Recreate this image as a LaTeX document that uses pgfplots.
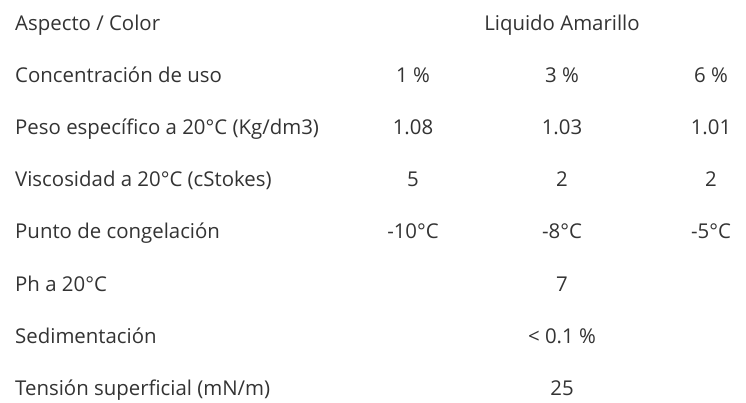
\documentclass[border=0pt]{standalone}
\usepackage{fontspec}
\setmainfont{Open Sans}
\usepackage{pgfplots}
\usepackage{pgfplotstable}
\pgfplotsset{compat=1.18}
\definecolor{txt}{HTML}{333333}

% left column: row labels (x = left edge, y = baseline in px from top)
\pgfplotstableread[col sep=comma]{
x,y,label
15,30.3,Aspecto / Color
15,82.4,Concentración de uso
15,134.6,Peso específico a 20°C (Kg/dm3)
15,186.7,Viscosidad a 20°C (cStokes)
15,238.9,Punto de congelación
15,291.0,Ph a 20°C
15,343.2,Sedimentación
15,395.3,Tensión superficial (mN/m)
}\rowlabels

% value cells (x = centre, y = baseline)
\pgfplotstableread[col sep=comma]{
x,y,label
562,30.3,Liquido Amarillo
413,82.4,1 \%
562,82.4,3 \%
711,82.4,6 \%
413,134.6,1.08
562,134.6,1.03
711,134.6,1.01
413,186.7,5
562,186.7,2
711,186.7,2
413,238.9,-10°C
562,238.9,-8°C
711,238.9,-5°C
562,291.0,7
562,343.2,< 0.1 \%
562,395.3,25
}\cells

\begin{document}
\begin{tikzpicture}
\begin{axis}[
  width=746bp, height=403bp, scale only axis,
  xmin=0, xmax=746, ymin=0, ymax=403, y dir=reverse,
  axis lines=none, clip=false,
  point meta=explicit symbolic,
  nodes near coords,
]
\path (rel axis cs:0,0) rectangle (rel axis cs:1,1);
\addplot[only marks, mark=none,
  every node near coord/.append style={anchor=base west, inner sep=0pt, text=txt,
    font=\fontsize{20.4bp}{24bp}\selectfont}]
  table[x=x, y=y, meta=label] {\rowlabels};
\addplot[only marks, mark=none,
  every node near coord/.append style={anchor=base, inner sep=0pt, text=txt,
    font=\fontsize{20.4bp}{24bp}\selectfont}]
  table[x=x, y=y, meta=label] {\cells};
\end{axis}
\end{tikzpicture}
\end{document}
